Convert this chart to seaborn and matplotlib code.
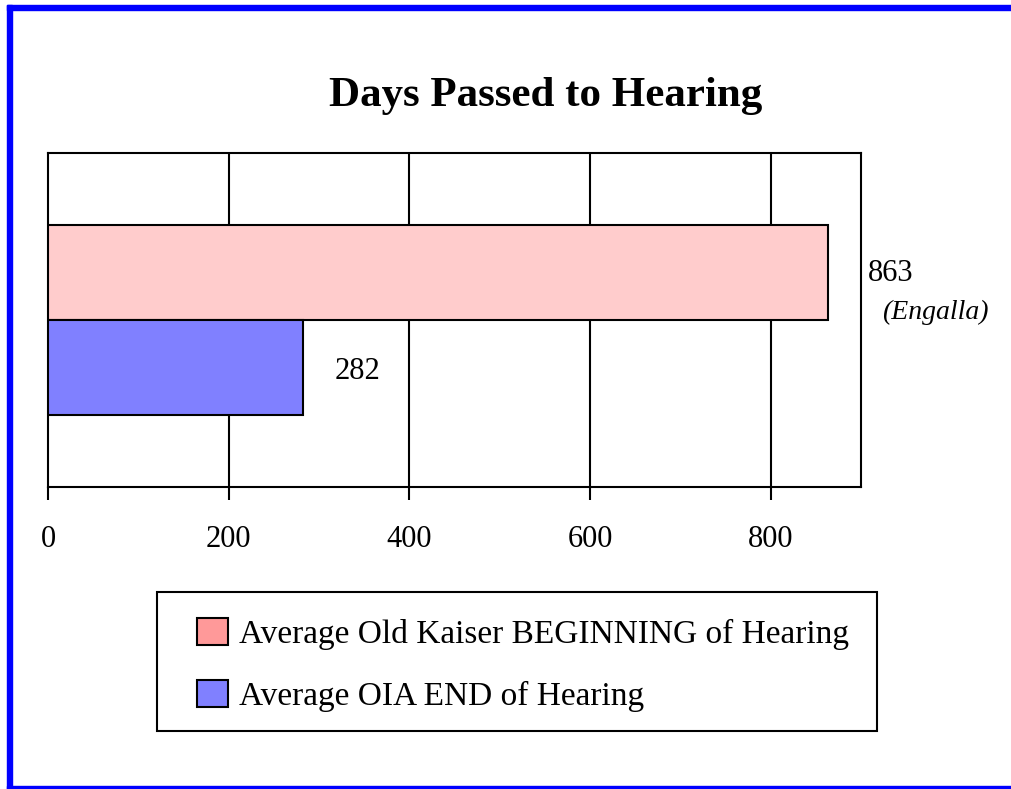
import matplotlib
matplotlib.use('Agg')
import matplotlib.pyplot as plt
from matplotlib.patches import Patch, Rectangle
import seaborn as sns
import pandas as pd

sns.set_style('white')
plt.rcParams['font.family'] = ['Liberation Serif', 'DejaVu Serif']
plt.rcParams['text.color'] = 'black'
plt.rcParams['xtick.color'] = 'black'

series = ['Average Old Kaiser BEGINNING of Hearing', 'Average OIA END of Hearing']
days = [863, 282]
bar_colors = ['#FFCCCC', '#8080FF']
legend_colors = ['#FF9999', '#8080FF']
ticks = [0, 200, 400, 600, 800]

df = pd.DataFrame({'cat': ['', ''], 'series': series, 'days': days})

fig = plt.figure(figsize=(10.12, 7.89), dpi=100)
ax = fig.add_axes([48 / 1012, 1 - 487 / 789, (861 - 48) / 1012, (487 - 153) / 789])

sns.barplot(data=df, x='days', y='cat', hue='series', palette=bar_colors,
            orient='h', width=0.566, edgecolor='black', linewidth=1.5,
            saturation=1, legend=False, ax=ax, zorder=3)

ax.set_xlim(0, 900)
ax.set_ylim(0.5, -0.5)
ax.set_xticks(ticks)
ax.set_xticklabels([str(t) for t in ticks], fontsize=22)
ax.set_yticks([])
ax.set_xlabel('')
ax.set_ylabel('')
ax.tick_params(axis='x', direction='out', length=9, width=1.5, pad=18.5, bottom=True)
for t in ticks[1:]:
    ax.axvline(t, color='black', lw=1.5, zorder=1)
for s in ax.spines.values():
    s.set_color('black')
    s.set_linewidth(1.5)

# value labels
ax.text(908, -0.14, '863', fontsize=22, va='center', ha='left', clip_on=False)
ax.text(923, -0.022, '(Engalla)', fontsize=20, style='italic', va='center', ha='left',
        clip_on=False)
ax.text(317, 0.153, '282', fontsize=22, va='center', ha='left')

fig.text(546 / 1012, 1 - 96 / 789, 'Days Passed to Hearing', fontsize=31,
         fontweight='bold', ha='center', va='center')

# legend (frame drawn separately)
handles = [Patch(facecolor=c, edgecolor='black', linewidth=1.5) for c in legend_colors]
leg = fig.legend(handles, series, loc='center', bbox_to_anchor=(523.5 / 1012, 1 - 665 / 789),
                 fontsize=24, frameon=False, borderpad=0, labelspacing=0.9,
                 handlelength=0.93, handleheight=0.87, handletextpad=0.33,
                 borderaxespad=0)
fig.patches.append(Rectangle((157 / 1012, 1 - 731 / 789), 720 / 1012, 139 / 789,
                             facecolor='none', edgecolor='black', linewidth=1.5,
                             transform=fig.transFigure, figure=fig))

# blue page border
fig.patches.append(Rectangle((7 / 1012, 0), 5 / 1012, 1 - 5 / 789, color='#0000FF',
                             transform=fig.transFigure, figure=fig))
fig.patches.append(Rectangle((7 / 1012, 1 - 10 / 789), 1, 5 / 789, color='#0000FF',
                             transform=fig.transFigure, figure=fig))
fig.patches.append(Rectangle((7 / 1012, 0), 1, 3 / 789, color='#0000FF',
                             transform=fig.transFigure, figure=fig))

fig.savefig('out.png', dpi=100)
